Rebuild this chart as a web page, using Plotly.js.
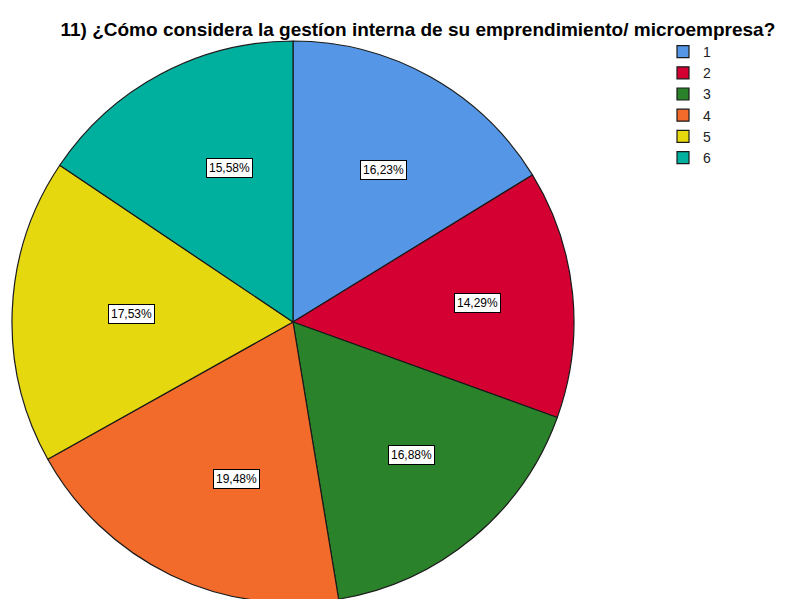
<!DOCTYPE html>
<html>
<head>
<meta charset="utf-8">
<script src="https://cdn.plot.ly/plotly-3.0.1.min.js"></script>
<style>html,body{margin:0;padding:0;background:#fff;overflow:hidden;}#chart{width:787px;height:604px;}</style>
</head>
<body>
<div id="chart"></div>
<script>
// Data
const categories = ["1", "2", "3", "4", "5", "6"];
const counts = [25, 22, 26, 30, 27, 24];
const sliceColors = ["#5597e6", "#d50032", "#2a832a", "#f26b2a", "#e5d80f", "#00b09e"];
const chartTitle = "11) ¿Cómo considera la gestíon interna de su emprendimiento/ microempresa?";

const W = 787, H = 604;
const dom = {x: [12 / W, 574 / W], y: [1 / H, 563 / H]};

const total = counts.reduce((a, b) => a + b, 0);
// pixel geometry of the pie derived from the domain
const dw = (dom.x[1] - dom.x[0]) * W, dh = (dom.y[1] - dom.y[0]) * H;
const R = Math.min(dw, dh) / 2;
const cxPx = (dom.x[0] + dom.x[1]) / 2 * W;
const cyPx = H - (dom.y[0] + dom.y[1]) / 2 * H;

const annotations = [];
let cum = 0;
counts.forEach((v, i) => {
  const mid = (cum + v / 2) / total * 2 * Math.PI;
  cum += v;
  const k = 0.66;
  const px = cxPx + R * k * Math.sin(mid);
  const py = cyPx - R * k * Math.cos(mid);
  const pct = (v / total * 100).toFixed(2).replace('.', ',') + '%';
  annotations.push({
    x: px / W, y: 1 - py / H, xref: 'paper', yref: 'paper',
    text: pct, showarrow: false,
    font: {family: 'Arial, Liberation Sans, sans-serif', size: 12, color: '#000'},
    bgcolor: '#ffffff', bordercolor: '#000000', borderwidth: 1, borderpad: 2
  });
});

const trace = {
  type: 'pie',
  labels: categories,
  values: counts,
  sort: false,
  direction: 'clockwise',
  rotation: 0,
  textinfo: 'none',
  hoverinfo: 'label+percent',
  marker: {colors: sliceColors, line: {color: '#1a1a1a', width: 1.2}},
  domain: dom
};

const layout = {
  width: W, height: H,
  margin: {l: 0, r: 0, t: 0, b: 0},
  paper_bgcolor: '#ffffff',
  separators: ',.',
  title: {
    text: '<b>' + chartTitle + '</b>',
    font: {family: 'Arial, Liberation Sans, sans-serif', size: 19, color: '#000'},
    x: 0.531, xanchor: 'center', y: 1 - 29 / H, yanchor: 'middle'
  },
  showlegend: true,
  legend: {
    x: 663 / W, xanchor: 'left', y: 1 - 36 / H, yanchor: 'top',
    font: {family: 'Arial, Liberation Sans, sans-serif', size: 14, color: '#222'},
    bgcolor: 'rgba(0,0,0,0)', traceorder: 'normal', tracegroupgap: 0,
    itemwidth: 30
  },
  annotations: annotations
};

Plotly.newPlot('chart', [trace], layout, {displayModeBar: false, staticPlot: true});
</script>
</body>
</html>
